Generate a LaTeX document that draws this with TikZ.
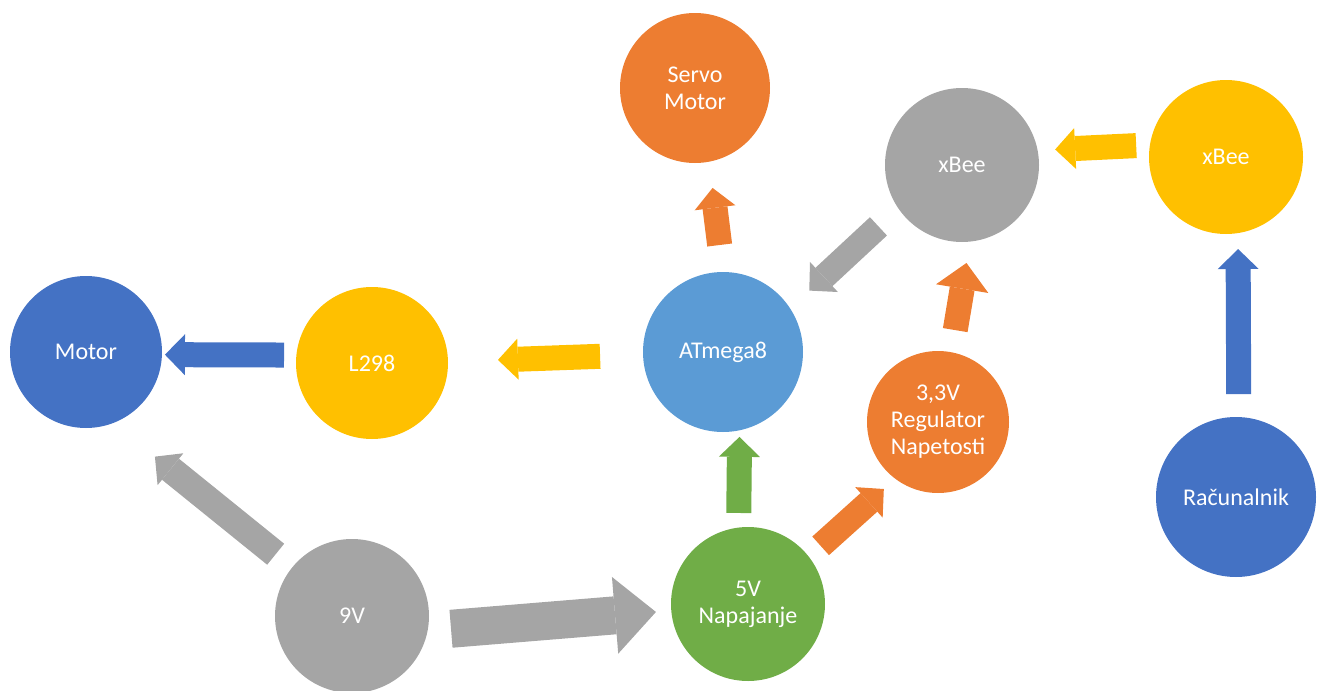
\documentclass[tikz,border=0pt]{standalone}
\usepackage{fontspec}
\setmainfont{Carlito}
\usetikzlibrary{arrows.meta}
\definecolor{offorange}{RGB}{237,125,49}
\definecolor{offgrey}{RGB}{165,165,165}
\definecolor{offyellow}{RGB}{255,192,0}
\definecolor{offblue}{RGB}{68,114,196}
\definecolor{offsky}{RGB}{91,155,213}
\definecolor{offgreen}{RGB}{112,173,71}

\begin{document}
\begin{tikzpicture}[x=0.5pt,y=-0.5pt,font=\fontsize{12}{13.5}\selectfont,
    ball/.style={circle,inner sep=0pt,outer sep=0pt,text=white,align=center},
    arr/.style={line width=12.5pt,-{Triangle[length=10pt,width=20.5pt,line width=0pt]}}]
  \useasboundingbox (0,0) rectangle (1330,691);
  \node[ball,fill=offorange,minimum size=75pt] (servo) at (695,88) {Servo\\Motor};
  \node[ball,fill=offgrey,minimum size=77pt] (xbeeB) at (962,165) {xBee};
  \node[ball,fill=offyellow,minimum size=77pt] (xbeeA) at (1226,157) {xBee};
  \node[ball,fill=offblue,minimum size=76pt] (motor) at (86,352) {Motor};
  \node[ball,fill=offyellow,minimum size=76pt] (l298) at (372,363) {L298};
  \node[ball,fill=offsky,minimum size=80pt] (mcu) at (723,352) {ATmega8};
  \node[ball,fill=offorange,minimum size=71pt] (reg) at (938,422) {3,3V\\Regulator\\Napetosti};
  \node[ball,fill=offblue,minimum size=80pt] (pc) at (1236,497) {Računalnik};
  \node[ball,fill=offgrey,minimum size=77pt] (bat) at (352,616) {9V};
  \node[ball,fill=offgreen,minimum size=77pt] (psu) at (748,604) {5V\\Napajanje};

  \draw[arr,offgrey,line width=19pt,-{Triangle[length=20.5pt,width=38.5pt,line width=0pt]},
    shorten <=11.75pt,shorten >=7.7pt] (bat.-11.2) -- (psu.185);
  \draw[arr,offgrey,line width=13.5pt,shorten <=10.6pt,shorten >=26.8pt] (bat.141.7) -- (motor.-69.7);
  \draw[arr,offyellow,shorten <=21.5pt,shorten >=25pt] (mcu.182.2) -- (l298.1);
  \draw[arr,offblue,shorten <=6.2pt,shorten >=1.5pt] (l298.174.4) -- (motor.-2.3);
  \draw[arr,offorange,shorten <=13.6pt,shorten >=13.25pt] (mcu.90.5) -- (servo.-79.4);
  \draw[arr,offgrey,shorten <=13.45pt,shorten >=13.1pt] (xbeeB.214.3) -- (mcu.33.6);
  \draw[arr,offorange,-{Triangle[length=13pt,width=26.5pt,line width=0pt]},
    shorten <=11.25pt,shorten >=10.85pt] (reg.79.7) -- (xbeeB.-84.3);
  \draw[arr,offorange,shorten <=8.05pt,shorten >=7.7pt] (psu.38.9) -- (reg.233.3);
  \draw[arr,offgreen,shorten <=7.3pt,shorten >=3.3pt] (psu.97.1) -- (mcu.-78.5);
  \draw[arr,offyellow,shorten <=6.9pt,shorten >=8.8pt] (xbeeA.171.4) -- (xbeeB.11.5);
  \draw[arr,offblue,shorten <=11.5pt,shorten >=8pt] (pc.88.9) -- (xbeeA.-81);
\end{tikzpicture}
\end{document}
